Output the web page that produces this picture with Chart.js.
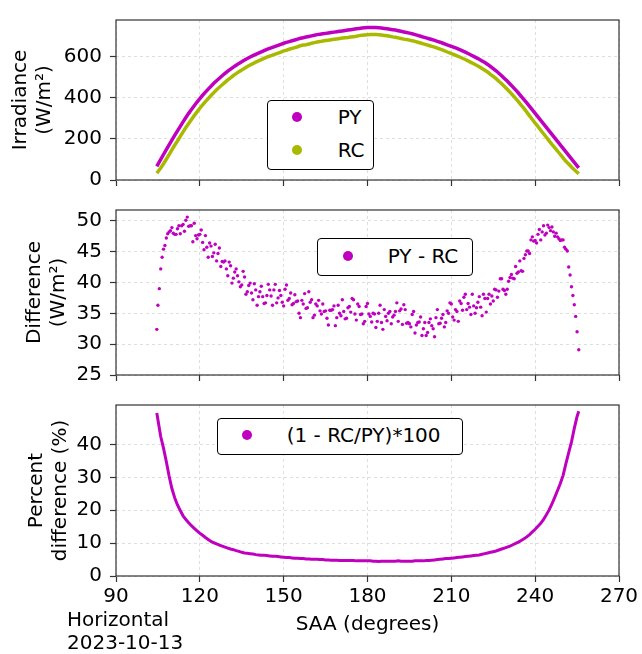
<!DOCTYPE html>
<html><head><meta charset="utf-8">
<script src="https://cdn.jsdelivr.net/npm/chart.js@4"></script>
<style>
html,body{margin:0;padding:0;background:#fff;}
#wrap{position:relative;width:642px;height:654px;overflow:hidden;font-family:"DejaVu Sans",sans-serif;}
canvas{position:absolute;left:0;}
.legend{position:absolute;border:1.3px solid #000;border-radius:4px;background:#fff;box-sizing:border-box;}
.mk{position:absolute;width:10px;height:10px;border-radius:50%;}
.lt{position:absolute;font-size:20px;line-height:20px;white-space:nowrap;color:#000;}
#foot{position:absolute;left:67px;top:608px;font-size:20px;line-height:23px;color:#000;}
</style></head>
<body><div id="wrap">
<canvas id="c1" width="642" height="200" style="top:0px"></canvas>
<canvas id="c2" width="642" height="205" style="top:190px"></canvas>
<canvas id="c3" width="642" height="269" style="top:385px"></canvas>
<div id="foot">Horizontal<br>2023-10-13</div>
</div>
<script>
// ---- data ----
const saa = [104.6,
105,106,107,108,109,110,111,112,113,114,
115,116,117,118,119,120,121,122,123,124,
125,126,127,128,129,130,131,132,133,134,
135,136,137,138,139,140,141,142,143,144,
145,146,147,148,149,150,151,152,153,154,
155,156,157,158,159,160,161,162,163,164,
165,166,167,168,169,170,171,172,173,174,
175,176,177,178,179,180,181,182,183,184,
185,186,187,188,189,190,191,192,193,194,
195,196,197,198,199,200,201,202,203,204,
205,206,207,208,209,210,211,212,213,214,
215,216,217,218,219,220,221,222,223,224,
225,226,227,228,229,230,231,232,233,234,
235,236,237,238,239,240,241,242,243,244,
245,246,247,248,249,250,251,252,253,254,
255,255.6];

const py = [66,
76,100,124,148,171,194,217,239,261,283,
304,324,343,361,379,396,412,427,442,456,
470,483,495,507,518,529,539,549,558,567,
575,583,591,598,605,611,617,623,629,635,
640,645,650,655,660,665,669,673,677,681,
685,689,692,695,698,701,704,707,709,711,
713,715,717,719,721,723,725,727,729,731,
733,735,737,739,740,741,742,742,741,740,
739,737,735,733,731,729,726,723,720,717,
714,711,707,703,699,695,691,687,683,679,
674,670,665,660,655,650,645,640,634,628,
622,615,608,601,594,587,579,571,562,552,
542,531,519,507,494,481,467,453,438,423,
407,391,375,358,341,324,307,290,273,256,
239,222,205,188,171,154,137,120,103,86,
69,59];

const rc = [33,
40,58,79,101,123,146,169,190,212,234,
255,275,294,313,331,349,365,381,396,411,
425,439,451,463,475,487,497,508,517,527,
535,543,552,559,566,573,579,585,591,597,
602,607,612,617,622,628,631,636,640,644,
648,653,656,658,661,665,668,671,673,676,
678,680,682,684,686,688,690,692,693,695,
697,699,702,704,705,706,707,708,707,706,
705,703,701,699,696,694,691,688,685,683,
680,677,674,670,666,662,658,654,650,646,
641,636,631,626,620,615,610,604,598,592,
586,579,572,565,558,551,542,534,525,514,
504,493,480,468,455,441,427,412,397,381,
364,348,330,312,294,277,260,242,225,208,
190,173,157,141,124,108,91,78,63,50,
38,30];

const diff = [32.4,
36.3,42.2,45.4,47.2,48.2,48.9,47.8,48.7,47.9,49.4,
50.1,49.1,49.2,49.6,47.1,47.8,46.5,47.6,44.1,45.9,
44.8,43.5,45.6,43.4,43.5,41.1,42.7,40.7,42.2,40.1,
39.6,40.9,38.5,39.9,37.2,38.8,37.7,39.4,36.6,37.9,
38.8,36.3,39.7,37.5,37.9,36.2,39.6,37.4,36.4,38.0,
37.0,34.3,36.5,35.8,38.5,37.2,34.7,36.2,35.4,36.5,
35.4,33.1,35.5,36.2,34.3,35.0,37.2,34.1,35.9,35.2,
37.2,33.9,36.1,34.9,33.7,36.6,34.5,35.0,32.7,35.0,
33.5,35.6,33.8,35.3,34.4,35.3,33.7,35.7,36.4,33.4,
33.3,34.8,31.8,33.5,34.4,32.5,31.4,33.5,33.0,31.2,
35.6,33.4,34.8,33.5,35.0,36.5,33.9,35.3,37.0,35.5,
38.1,36.6,34.8,36.2,35.9,37.7,34.6,37.4,37.4,36.5,
37.0,38.8,38.6,40.6,38.7,38.9,40.8,40.7,42.6,41.7,
41.9,43.9,45.1,44.7,47.4,46.8,47.8,46.9,49.2,48.0,
48.9,49.0,47.5,47.4,46.8,46.9,45.4,42.5,39.3,36.4,
32.0,29.1];

const saaB = [
105.5,106.5,107.5,108.5,109.5,110.5,111.5,112.5,113.5,114.5,
115.5,116.5,117.5,118.5,119.5,120.5,121.5,122.5,123.5,124.5,
125.5,126.5,127.5,128.5,129.5,130.5,131.5,132.5,133.5,134.5,
135.5,136.5,137.5,138.5,139.5,140.5,141.5,142.5,143.5,144.5,
145.5,146.5,147.5,148.5,149.5,150.5,151.5,152.5,153.5,154.5,
155.5,156.5,157.5,158.5,159.5,160.5,161.5,162.5,163.5,164.5,
165.5,166.5,167.5,168.5,169.5,170.5,171.5,172.5,173.5,174.5,
175.5,176.5,177.5,178.5,179.5,180.5,181.5,182.5,183.5,184.5,
185.5,186.5,187.5,188.5,189.5,190.5,191.5,192.5,193.5,194.5,
195.5,196.5,197.5,198.5,199.5,200.5,201.5,202.5,203.5,204.5,
205.5,206.5,207.5,208.5,209.5,210.5,211.5,212.5,213.5,214.5,
215.5,216.5,217.5,218.5,219.5,220.5,221.5,222.5,223.5,224.5,
225.5,226.5,227.5,228.5,229.5,230.5,231.5,232.5,233.5,234.5,
235.5,236.5,237.5,238.5,239.5,240.5,241.5,242.5,243.5,244.5,
245.5,246.5,247.5,248.5,249.5,250.5,251.5,252.5,253.5,254.5];

const diffB = [
39.0,44.1,46.0,47.9,48.4,48.0,47.8,49.2,49.2,48.3,
50.6,49.2,46.6,47.6,47.7,48.5,45.3,45.7,46.4,44.2,
46.2,44.7,42.6,43.3,42.2,43.3,39.9,41.7,41.1,39.3,
41.8,38.1,39.5,38.3,39.8,36.3,38.5,37.7,36.7,39.7,
37.8,38.8,36.7,38.7,36.8,38.9,37.1,38.3,36.6,36.9,
35.0,37.1,38.2,35.9,36.8,34.3,36.5,37.1,34.9,35.3,
34.2,35.5,35.6,33.0,36.3,34.6,35.3,34.2,36.1,37.4,
34.9,36.5,34.8,33.3,36.1,34.9,33.6,34.9,33.7,36.3,
32.4,34.5,35.0,33.3,34.7,36.7,35.4,33.2,35.6,33.5,
32.8,35.3,33.1,33.6,31.4,33.5,31.9,34.1,32.5,34.3,
33.3,34.2,32.8,35.4,36.7,34.4,35.6,33.7,36.6,37.6,
35.6,36.0,38.1,35.0,36.8,36.0,38.1,35.2,38.1,37.8,
38.9,37.6,40.6,38.9,38.1,40.2,41.3,40.6,41.5,43.5,
41.8,44.5,45.1,46.9,46.7,46.4,48.6,48.2,47.7,49.3,
48.4,48.2,48.0,47.1,46.9,45.7,45.1,41.2,37.9,34.5];

const pct = [49.6,
47.5,42.4,38.9,34.8,30.4,26.6,23.8,21.6,19.9,18.3,
17.2,16.2,15.3,14.5,13.7,13.0,12.4,11.7,11.1,10.5,
10.1,9.8,9.4,9.1,8.8,8.5,8.2,8.0,7.7,7.5,
7.2,7.0,6.9,6.8,6.7,6.5,6.4,6.3,6.3,6.2,
6.1,6.0,6.0,5.9,5.8,5.7,5.6,5.6,5.5,5.4,
5.4,5.3,5.3,5.2,5.2,5.1,5.1,5.1,5.0,5.0,
4.9,4.9,4.8,4.8,4.8,4.7,4.7,4.7,4.7,4.7,
4.7,4.6,4.6,4.6,4.6,4.6,4.6,4.5,4.5,4.4,
4.5,4.5,4.5,4.5,4.5,4.5,4.6,4.5,4.5,4.5,
4.5,4.5,4.6,4.6,4.6,4.6,4.7,4.7,4.8,4.9,
5.0,5.1,5.2,5.3,5.3,5.4,5.5,5.6,5.7,5.8,
5.9,6.0,6.1,6.2,6.3,6.4,6.6,6.8,7.0,7.2,
7.4,7.6,7.9,8.2,8.5,8.8,9.1,9.5,9.9,10.3,
10.8,11.3,11.9,12.6,13.4,14.2,15.1,16.0,17.2,18.6,
20.1,21.9,23.9,26.0,28.1,30.6,34.2,37.5,40.8,44.9,
48.5,50.1];

// tick labels / axis ranges
const xTickVals = [90, 120, 150, 180, 210, 240, 270];
const yTickVals1 = [0, 200, 400, 600];
const yTickVals2 = [25, 30, 35, 40, 45, 50];
const yTickVals3 = [0, 10, 20, 30, 40];
const xRange = [90, 270];
const yRange1 = [0, 778];
const yRange2 = [25, 51.75];
const yRange3 = [0, 52];

// ---- styling ----
const F = '"DejaVu Sans", sans-serif';
const MAG = '#bf00bf';
const OLV = '#a9b900';
const pts = (xs, ys) => xs.map((x, i) => ({x: x, y: ys[i]}));
const setTicks = vals => (s) => { s.ticks = vals.map(v => ({value: v})); };

const frame = {id: 'frame', afterDatasetsDraw(chart) {
  const {ctx, chartArea: a} = chart;
  ctx.save(); ctx.strokeStyle = '#333'; ctx.lineWidth = 1.2;
  ctx.strokeRect(a.left, a.top, a.right - a.left, a.bottom - a.top);
  ctx.restore();
}};

function gridOpts() {
  return {color: '#d6d6d6', lineWidth: 0.8, tickLength: 6, tickColor: '#333', tickWidth: 1.2};
}
function makeOpts(yr, yVals, yTitle, titlePad, bottom, padTop, xH) {
  return {
    responsive: false, animation: false, devicePixelRatio: 1,
    layout: {padding: {top: padTop, right: 23, left: 0, bottom: 0}},
    plugins: {legend: {display: false}, tooltip: {enabled: false}},
    scales: {
      x: {type: 'linear', min: xRange[0], max: xRange[1],
        afterBuildTicks: setTicks(xTickVals),
        afterFit(s) { s.height = xH; },
        ticks: {display: bottom, maxRotation: 0, font: {family: F, size: 20}, color: '#000', padding: 3},
        grid: gridOpts(), border: {display: false, dash: [3, 3]},
        title: {display: bottom, text: 'SAA (degrees)', font: {family: F, size: 20, lineHeight: 1.2},
          color: '#000', padding: {top: 0, bottom: 17}}},
      y: {type: 'linear', min: yr[0], max: yr[1],
        afterBuildTicks: setTicks(yVals),
        afterFit(s) { s.width = 116; },
        ticks: {font: {family: F, size: 20}, color: '#000', padding: 8},
        grid: gridOpts(), border: {display: false, dash: [3, 3]},
        title: {display: true, text: yTitle, font: {family: F, size: 20, lineHeight: 1.2},
          color: '#000', padding: {top: titlePad, bottom: 0}}}
    }
  };
}

const ch1 = new Chart(document.getElementById('c1'), {
  type: 'scatter',
  data: {datasets: [
    {label: 'PY', data: pts(saa, py), showLine: true, borderColor: MAG, backgroundColor: MAG, borderWidth: 3.5, pointRadius: 0},
    {label: 'RC', data: pts(saa, rc), showLine: true, borderColor: OLV, backgroundColor: OLV, borderWidth: 3.5, pointRadius: 0}
  ]},
  options: makeOpts(yRange1, yTickVals1, ['Irradiance', '(W/m²)'], 9, false, 12, 13),
  plugins: [frame]
});

const ch2 = new Chart(document.getElementById('c2'), {
  type: 'scatter',
  data: {datasets: [
    {label: 'PY - RC', data: pts(saa, diff), backgroundColor: MAG, borderColor: MAG, pointRadius: 1.7, pointBorderWidth: 0},
    {label: '', hideLegend: true, data: pts(saaB, diffB), backgroundColor: MAG, borderColor: MAG, pointRadius: 1.7, pointBorderWidth: 0}
  ]},
  options: makeOpts(yRange2, yTickVals2, ['Difference', '(W/m²)'], 23, false, 15.7, 12.7),
  plugins: [frame]
});

const ch3 = new Chart(document.getElementById('c3'), {
  type: 'scatter',
  data: {datasets: [
    {label: '(1 - RC/PY)*100', data: pts(saa, pct), showLine: true, borderColor: MAG, backgroundColor: MAG, borderWidth: 3, pointRadius: 0}
  ]},
  options: makeOpts(yRange3, yTickVals3, ['Percent', 'difference (%)'], 25, true, 15, 78),
  plugins: [frame]
});

// ---- HTML legends built from the chart datasets ----
function legend(chart, box) {
  const wrap = document.getElementById('wrap');
  const d = document.createElement('div');
  d.className = 'legend';
  d.style.left = box.left + 'px'; d.style.top = box.top + 'px';
  d.style.width = box.width + 'px'; d.style.height = box.height + 'px';
  wrap.appendChild(d);
  const items = chart.data.datasets.filter(ds => !ds.hideLegend);
  items.forEach((ds, i) => {
    const cy = box.rows[i];
    const m = document.createElement('div');
    m.className = 'mk'; m.style.background = ds.backgroundColor;
    m.style.left = (box.mx - box.left - 5 - 1.3) + 'px';
    m.style.top = (cy - box.top - 5 - 1.3) + 'px';
    d.appendChild(m);
    const t = document.createElement('div');
    t.className = 'lt'; t.textContent = ds.label;
    t.style.left = (box.tx - box.left - 1.3) + 'px';
    t.style.top = (cy - box.top - 10 - 1.3) + 'px';
    d.appendChild(t);
  });
}
legend(ch1, {left: 267, top: 100, width: 107, height: 70, mx: 297, tx: 338, rows: [117.5, 150]});
legend(ch2, {left: 317, top: 238, width: 156, height: 38, mx: 348, tx: 388, rows: [256]});
legend(ch3, {left: 217, top: 418, width: 246, height: 37, mx: 247, tx: 287, rows: [435.5]});
</script>
</body></html>
